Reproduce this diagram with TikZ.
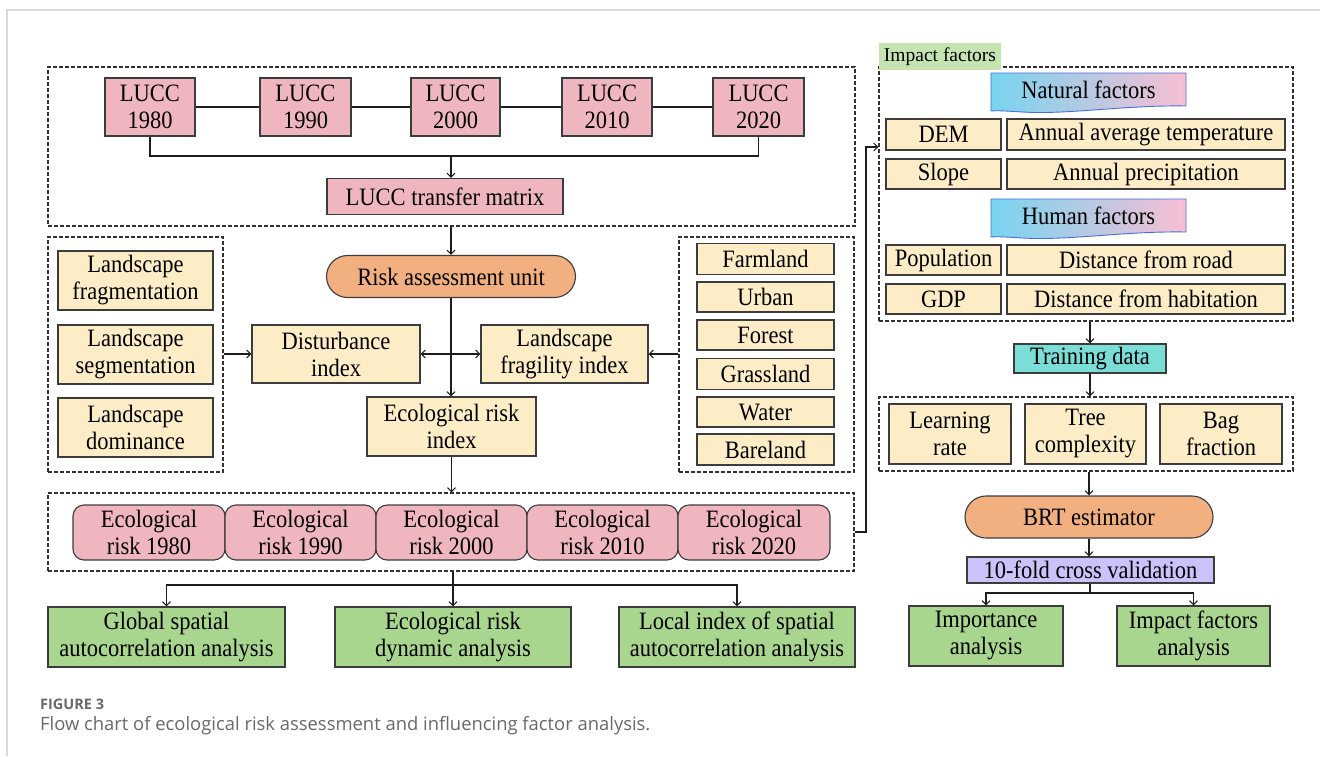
\documentclass[tikz,border=0pt]{standalone}
\usepackage{fontspec}
\setmainfont[FakeStretch=0.9]{Liberation Serif}
\newfontfamily\labfont{Liberation Serif}
\newfontfamily\capfont{Open Sans}
\usetikzlibrary{arrows.meta}
\definecolor{pinkc}{RGB}{240,182,192}
\definecolor{beigec}{RGB}{253,237,199}
\definecolor{orangec}{RGB}{242,176,128}
\definecolor{greenc}{RGB}{168,214,142}
\definecolor{tealc}{RGB}{122,221,214}
\definecolor{lavc}{RGB}{204,194,250}
\definecolor{lgreenc}{RGB}{198,228,178}
\definecolor{bordc}{RGB}{60,60,60}
\definecolor{linec}{RGB}{30,30,30}
\definecolor{dashc}{RGB}{50,50,50}
\definecolor{cyanc}{RGB}{120,212,240}
\definecolor{pinkshade}{RGB}{248,190,212}
\definecolor{bannerborder}{RGB}{70,110,220}
\definecolor{framec}{RGB}{218,218,218}
\definecolor{capc}{RGB}{105,105,105}
\newcommand{\mainfs}{\fontsize{25}{27}\selectfont}
\tikzset{
  box/.style={draw=bordc, line width=1.1pt, align=center, inner sep=0pt, font=\mainfs},
  pinkbox/.style={box, fill=pinkc},
  beigebox/.style={box, fill=beigec},
  greenbox/.style={box, fill=greenc},
  stadium/.style={box, fill=orangec, rounded corners=21pt},
  erbox/.style={box, fill=pinkc, rounded corners=11pt},
  dbox/.style={draw=dashc, dash pattern=on 4pt off 2pt, line width=1.1pt, inner sep=0pt},
  arr/.style={-{Straight Barb[length=4pt,width=8pt]}, line width=1.1pt, draw=linec},
  darr/.style={{Straight Barb[length=4pt,width=8pt]}-{Straight Barb[length=4pt,width=8pt]}, line width=1.1pt, draw=linec},
  ln/.style={line width=1.1pt, draw=linec},
  banner/.style={draw=bannerborder, line width=0.9pt, left color=cyanc, right color=pinkshade},
}
\begin{document}
\begin{tikzpicture}[x=1pt, y=-1pt]
\useasboundingbox (0,0) rectangle (1320,756);
\fill[white] (0,0) rectangle (1320,756);
\draw[framec, line width=1.4pt] (7,756) -- (7,10) -- (1320,10);

% ---------- top dashed box ----------
\node[dbox, minimum width=807pt, minimum height=159pt] (topbox) at (451.5,146.5) {};
\node[pinkbox, minimum width=90pt, minimum height=58pt] (l1) at (150,107) {LUCC\\1980};
\node[pinkbox, minimum width=91pt, minimum height=58pt] (l2) at (305.5,107) {LUCC\\1990};
\node[pinkbox, minimum width=89pt, minimum height=58pt] (l3) at (455.5,107) {LUCC\\2000};
\node[pinkbox, minimum width=90pt, minimum height=58pt] (l4) at (607,107) {LUCC\\2010};
\node[pinkbox, minimum width=91pt, minimum height=58pt] (l5) at (758.5,107) {LUCC\\2020};
\draw[ln] (l1) -- (l2);
\draw[ln] (l2) -- (l3);
\draw[ln] (l3) -- (l4);
\draw[ln] (l4) -- (l5);
\node[pinkbox, minimum width=236pt, minimum height=36pt] (tm) at (445,196.5) {LUCC transfer matrix};
\coordinate (mjoin) at (451,156);
\draw[ln] (l1.south) |- (mjoin);
\draw[ln] (l5.south) |- (mjoin);
\draw[arr] (mjoin) -- (mjoin |- tm.north);

% ---------- middle ----------
\node[stadium, minimum width=249pt, minimum height=42pt] (ru) at (451,276.5) {Risk assessment unit};
\draw[arr] (ru.north |- topbox.south) -- (ru.north);

\node[dbox, minimum width=175pt, minimum height=235pt] (leftbox) at (135.5,354.5) {};
\node[beigebox, minimum width=155pt, minimum height=59pt] (lf) at (135.5,280.5) {Landscape\\fragmentation};
\node[beigebox, minimum width=155pt, minimum height=59pt] (ls) at (135.5,354.5) {Landscape\\segmentation};
\node[beigebox, minimum width=155pt, minimum height=59pt] (ld) at (135.5,427.5) {Landscape\\dominance};

\node[beigebox, minimum width=168pt, minimum height=58pt] (di) at (336,354) {Disturbance\\index};
\node[beigebox, minimum width=167pt, minimum height=58pt] (lfi) at (564.5,354) {Landscape\\fragility index};
\node[beigebox, minimum width=169pt, minimum height=59pt] (eri) at (451.5,426.5) {Ecological risk\\index};

\node[dbox, minimum width=175pt, minimum height=235pt] (rightbox) at (766.5,354.5) {};
\node[beigebox, minimum width=137pt, minimum height=31pt] (fa) at (765.5,259) {Farmland};
\node[beigebox, minimum width=137pt, minimum height=30pt] (ur) at (765.5,297) {Urban};
\node[beigebox, minimum width=137pt, minimum height=30pt] (fo) at (765.5,335) {Forest};
\node[beigebox, minimum width=137pt, minimum height=31pt] (gr) at (765.5,374) {Grassland};
\node[beigebox, minimum width=137pt, minimum height=30pt] (wa) at (765.5,412) {Water};
\node[beigebox, minimum width=137pt, minimum height=31pt] (ba) at (765.5,449.5) {Bareland};

\draw[arr] (leftbox.east |- di.west) -- (di.west);
\draw[arr] (rightbox.west |- lfi.east) -- (lfi.east);
\draw[darr] (di.east) -- (lfi.west);
\draw[arr] (ru.south) -- (ru.south |- eri.north);

% ---------- bottom-left ----------
\node[dbox, minimum width=806pt, minimum height=78pt] (botbox) at (451,532) {};
\node[erbox, minimum width=152pt, minimum height=55pt] (e1) at (149,532.5) {Ecological\\risk 1980};
\node[erbox, minimum width=151pt, minimum height=55pt] (e2) at (300.5,532.5) {Ecological\\risk 1990};
\node[erbox, minimum width=151pt, minimum height=55pt] (e3) at (451.5,532.5) {Ecological\\risk 2000};
\node[erbox, minimum width=151pt, minimum height=55pt] (e4) at (602.5,532.5) {Ecological\\risk 2010};
\node[erbox, minimum width=152pt, minimum height=55pt] (e5) at (754,532.5) {Ecological\\risk 2020};
\draw[arr] (eri.south) -- (eri.south |- botbox.north);

\node[greenbox, minimum width=237pt, minimum height=60pt] (g1) at (166.5,637) {Global spatial\\autocorrelation analysis};
\node[greenbox, minimum width=236pt, minimum height=60pt] (g2) at (453,637) {Ecological risk\\dynamic analysis};
\node[greenbox, minimum width=236pt, minimum height=60pt] (g3) at (737,637) {Local index of spatial\\autocorrelation analysis};
\coordinate (bjoin) at (453,585);
\draw[ln] (bjoin |- botbox.south) -- (bjoin);
\draw[arr] (bjoin) -| (g1.north);
\draw[arr] (bjoin) -- (g2.north);
\draw[arr] (bjoin) -| (g3.north);

% ---------- right side ----------
\node[dbox, minimum width=414pt, minimum height=254pt] (impbox) at (1086,194) {};
\node[fill=lgreenc, inner sep=0pt, minimum width=122pt, minimum height=27pt, font=\labfont\fontsize{19.5}{22}\selectfont] (implab) at (940,56.5) {Impact factors};

\coordinate (rjoin) at (866,147);
\draw[arr] (botbox.east) -| (rjoin) -- (rjoin -| impbox.west);

% banners
\path[banner] (991,73) -- (1186,73) -- (1186,106) .. controls (1130,105) and (1080,113) .. (1035,112.5) .. controls (1015,112) and (1000,110) .. (991,111) -- cycle;
\node[font=\mainfs, inner sep=0pt] (nf) at (1088.5,90) {Natural factors};
\path[banner] (991,199) -- (1186,199) -- (1186,232) .. controls (1130,231) and (1080,239) .. (1035,238.5) .. controls (1015,238) and (1000,236) .. (991,237) -- cycle;
\node[font=\mainfs, inner sep=0pt] (hf) at (1088.5,216) {Human factors};

\node[beigebox, minimum width=115pt, minimum height=31pt] (dem) at (943.5,134.5) {DEM};
\node[beigebox, minimum width=278pt, minimum height=31pt] (aat) at (1146,134.5) {Annual average temperature};
\node[beigebox, minimum width=115pt, minimum height=30pt] (slo) at (943.5,174) {Slope};
\node[beigebox, minimum width=278pt, minimum height=30pt] (ap) at (1146,174) {Annual precipitation};
\node[beigebox, minimum width=115pt, minimum height=30pt] (pop) at (943.5,260) {Population};
\node[beigebox, minimum width=278pt, minimum height=30pt] (dr) at (1146,260) {Distance from road};
\node[beigebox, minimum width=115pt, minimum height=30pt] (gdp) at (943.5,299) {GDP};
\node[beigebox, minimum width=278pt, minimum height=30pt] (dh) at (1146,299) {Distance from habitation};

\node[box, fill=tealc, minimum width=152pt, minimum height=29pt] (td) at (1090,358.5) {Training data};
\draw[arr] (td.north |- impbox.south) -- (td.north);

\node[dbox, minimum width=414pt, minimum height=74pt] (parbox) at (1086,434) {};
\node[beigebox, minimum width=122pt, minimum height=60pt] (lr) at (950,434) {Learning\\rate};
\node[beigebox, minimum width=121pt, minimum height=60pt] (tc) at (1085.5,434) {Tree\\complexity};
\node[beigebox, minimum width=122pt, minimum height=60pt] (bf) at (1221,434) {Bag\\fraction};
\draw[arr] (td.south) -- (td.south |- parbox.north);

\node[stadium, minimum width=248pt, minimum height=42pt] (brt) at (1089,517) {BRT estimator};
\draw[arr] (brt.north |- parbox.south) -- (brt.north);
\node[box, fill=lavc, minimum width=247pt, minimum height=26pt] (cv) at (1090.5,570) {10-fold cross validation};
\draw[arr] (brt.south) -- (brt.south |- cv.north);

\node[greenbox, minimum width=154pt, minimum height=60pt] (ia) at (986,636) {Importance\\analysis};
\node[greenbox, minimum width=153pt, minimum height=60pt] (ifa) at (1193.5,636) {Impact factors\\analysis};
\coordinate (cjoin) at (1090,593);
\draw[ln] (cv.south -| cjoin) -- (cjoin);
\draw[arr] (cjoin) -| (ia.north);
\draw[arr] (cjoin) -| (ifa.north);

% ---------- caption ----------
\node[anchor=base west, inner sep=0pt, text=capc, font=\capfont\bfseries\fontsize{14.5}{16}\selectfont] (fig) at (40,709) {FIGURE 3};
\node[anchor=base west, inner sep=0pt, text=capc, font=\capfont\fontsize{18.4}{21}\selectfont] (cap) at (40,730) {Flow chart of ecological risk assessment and influencing factor analysis.};
\end{tikzpicture}
\end{document}
